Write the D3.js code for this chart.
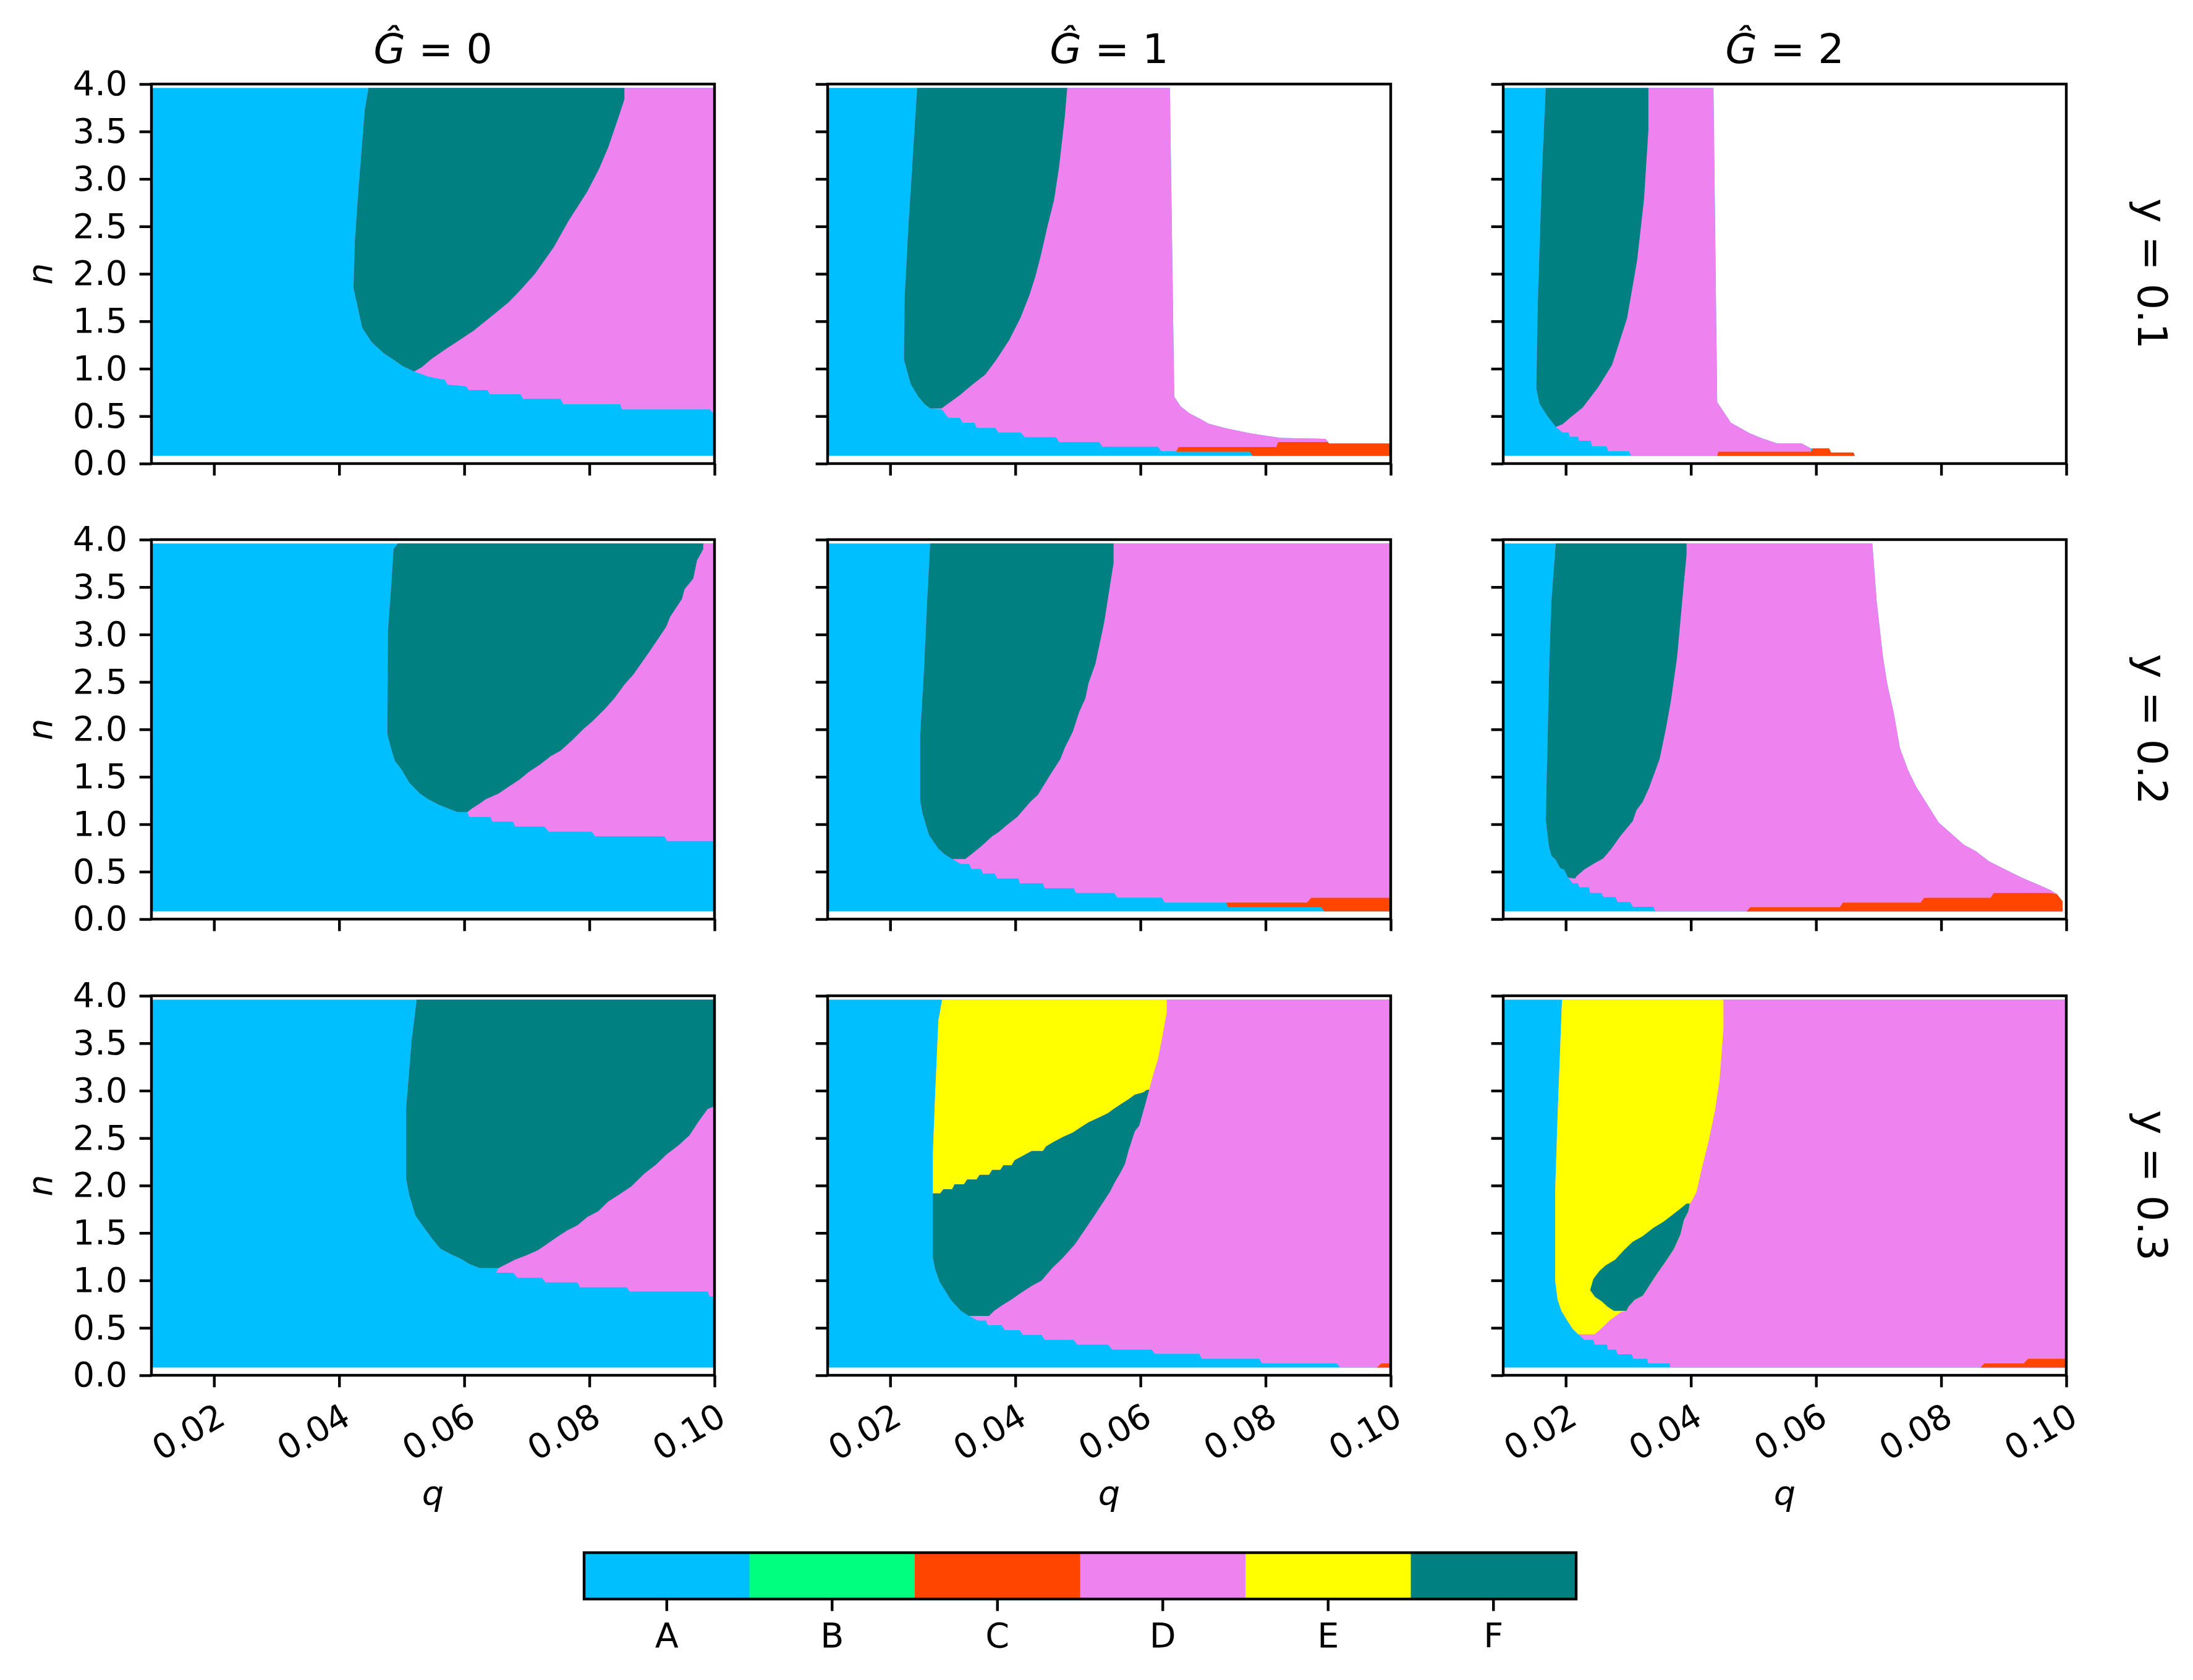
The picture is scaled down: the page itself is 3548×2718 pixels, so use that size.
<!DOCTYPE html>
<html lang="en">
<head>
<meta charset="utf-8">
<title>Phase regions in (q, n)</title>
<script src="https://cdnjs.cloudflare.com/ajax/libs/d3/7.8.5/d3.min.js"></script>
<style>
  body { margin: 0; background: #fff; }
  text { font-family: "DejaVu Sans", sans-serif; }
</style>
</head>
<body>
<div id="chart"></div>
<script>
// ---- categories, colours, tick labels ----
var categories = ["A", "B", "C", "D", "E", "F"];
var catColors = ["#00BFFF", "#00FF7F", "#FF4500", "#EE82EE", "#FFFF00", "#008080"];
var gValues = [0, 1, 2];
var yValues = ["0.1", "0.2", "0.3"];
var qTicks = [0.02, 0.04, 0.06, 0.08, 0.10];
var nTicks = [0, 0.5, 1, 1.5, 2, 2.5, 3, 3.5, 4];

var N_LO = 0.082, N_HI = 3.96;
var fullRect = [[0.01, N_LO], [0.01, N_HI], [0.1, N_HI], [0.1, N_LO]];

// ---- region boundaries, [q, n] ----
// G=0, y=0.1
var g0y1_fLeft = [[0.0447,3.96],[0.0441,3.73],[0.0431,2.90],[0.0425,2.33],[0.0423,1.85],[0.0428,1.70],[0.0437,1.43],[0.0452,1.28],[0.0471,1.165],[0.0486,1.10],[0.0501,1.03],[0.0520,0.97]];
var g0y1_fRight = [[0.0856,3.96],[0.0856,3.84],[0.0847,3.66],[0.0830,3.33],[0.0815,3.10],[0.0796,2.86],[0.0766,2.55],[0.0743,2.28],[0.0713,2.00],[0.0690,1.83],[0.0671,1.70],[0.0645,1.56],[0.0615,1.40],[0.0592,1.30],[0.0569,1.20],[0.0547,1.10],[0.0532,1.015],[0.0520,0.97]];
var g0y1_adStair = [[0.0520,0.97],[0.0543,0.915],[0.0569,0.882],[0.0573,0.832],[0.0603,0.815],[0.0607,0.775],[0.0637,0.775],[0.0641,0.732],[0.0690,0.732],[0.0694,0.682],[0.0754,0.682],[0.0758,0.626],[0.0849,0.626],[0.0852,0.572],[0.0992,0.572],[0.1,0.516]];

// G=1, y=0.1
var g1y1_fLeft = [[0.0243,3.96],[0.0236,3.216],[0.0229,2.49],[0.0223,1.736],[0.0222,1.097],[0.0228,0.952],[0.0233,0.836],[0.0245,0.705],[0.0255,0.627],[0.0264,0.581]];
var g1y1_fRight = [[0.0483,3.96],[0.0479,3.65],[0.0470,3.13],[0.0462,2.78],[0.0451,2.49],[0.0441,2.20],[0.0432,1.97],[0.0422,1.765],[0.0408,1.533],[0.0390,1.30],[0.0370,1.097],[0.0352,0.938],[0.0332,0.836],[0.0311,0.72],[0.0293,0.633],[0.0282,0.581]];
var g1y1_adStair = [[0.0264,0.581],[0.0283,0.569],[0.0293,0.482],[0.0311,0.482],[0.0316,0.430],[0.0335,0.430],[0.0338,0.377],[0.0368,0.377],[0.0373,0.328],[0.0409,0.328],[0.0415,0.279],[0.0465,0.279],[0.0470,0.226],[0.0534,0.226],[0.0539,0.177],[0.0628,0.177],[0.0633,0.130],[0.0657,0.130]];
var g1y1_white = [[0.0647,3.96],[0.0654,0.705],[0.0664,0.604],[0.0678,0.531],[0.0695,0.473],[0.0709,0.421],[0.0737,0.372],[0.0775,0.319],[0.0824,0.27],[0.0896,0.261],[0.0900,0.226]];
var g1y1_C = [[0.0661,0.174],[0.0817,0.174],[0.0820,0.226],[0.0900,0.226],[0.0901,0.212],[0.1,0.212],[0.1,N_LO],[0.0779,N_LO],[0.0775,0.125],[0.0657,0.125]];

// G=2, y=0.1
var g2y1_fLeft = [[0.0168,3.96],[0.0162,3.07],[0.0155,1.62],[0.0153,0.79],[0.0158,0.633],[0.0169,0.517],[0.0184,0.386]];
var g2y1_fRight = [[0.0332,3.96],[0.0332,3.51],[0.0325,2.78],[0.0314,2.14],[0.0298,1.533],[0.0274,1.04],[0.0252,0.807],[0.0227,0.589],[0.0216,0.531],[0.0205,0.473],[0.0195,0.415],[0.0184,0.386]];
var g2y1_adStair = [[0.0184,0.386],[0.0195,0.328],[0.0205,0.328],[0.0206,0.284],[0.0220,0.284],[0.0221,0.241],[0.0240,0.241],[0.0242,0.183],[0.0265,0.183],[0.0268,0.131],[0.0301,0.131],[0.0304,N_LO]];
var g2y1_white = [[0.0436,3.96],[0.0442,0.647],[0.0464,0.43],[0.0480,0.372],[0.0494,0.319],[0.0512,0.27],[0.0538,0.212],[0.0577,0.212],[0.0592,0.16]];
var g2y1_C = [[0.0442,N_LO],[0.0444,0.125],[0.0592,0.125],[0.0595,0.16],[0.0621,0.16],[0.0624,0.116],[0.0660,0.116],[0.0662,N_LO]];

// G=0, y=0.2
var g0y2_fLeft = [[0.0494,3.96],[0.0487,3.90],[0.0483,3.49],[0.0478,3.03],[0.0477,1.95],[0.0483,1.80],[0.0489,1.67],[0.0499,1.585],[0.0512,1.44],[0.0529,1.324],[0.0542,1.265],[0.0559,1.207],[0.0575,1.164],[0.0589,1.129],[0.0605,1.129]];
var g0y2_fRight = [[0.0982,3.96],[0.0982,3.90],[0.0972,3.78],[0.0966,3.59],[0.0952,3.476],[0.0948,3.375],[0.0929,3.185],[0.0923,3.084],[0.0896,2.82],[0.0870,2.575],[0.0856,2.473],[0.0840,2.327],[0.0824,2.21],[0.0804,2.08],[0.0791,2.007],[0.0771,1.876],[0.0754,1.775],[0.0738,1.716],[0.0721,1.629],[0.0704,1.556],[0.0688,1.469],[0.0671,1.396],[0.0655,1.324],[0.0635,1.265],[0.0622,1.207],[0.0612,1.164],[0.0605,1.129]];
var g0y2_adStair = [[0.0605,1.129],[0.0608,1.076],[0.0642,1.076],[0.0645,1.027],[0.0678,1.027],[0.0681,0.975],[0.0728,0.975],[0.0735,0.922],[0.0804,0.922],[0.0809,0.873],[0.0920,0.873],[0.0924,0.823],[0.1,0.823]];

// G=1, y=0.2
var g1y2_fLeft = [[0.0264,3.96],[0.0259,3.345],[0.0254,2.618],[0.0248,1.95],[0.0248,1.25],[0.0252,1.105],[0.0262,0.887],[0.0277,0.742],[0.0287,0.684],[0.0299,0.634]];
var g1y2_fRight = [[0.0557,3.96],[0.0557,3.753],[0.0542,3.127],[0.0528,2.69],[0.0517,2.487],[0.0512,2.327],[0.0502,2.182],[0.0492,1.978],[0.0479,1.804],[0.0472,1.687],[0.0455,1.513],[0.0436,1.309],[0.0424,1.236],[0.0403,1.076],[0.0386,0.989],[0.0373,0.916],[0.0363,0.873],[0.0346,0.771],[0.0330,0.684],[0.0320,0.634]];
var g1y2_adStair = [[0.0299,0.634],[0.0313,0.582],[0.0326,0.582],[0.0330,0.529],[0.0345,0.529],[0.0348,0.48],[0.0367,0.48],[0.0371,0.428],[0.0405,0.428],[0.0407,0.378],[0.0444,0.378],[0.0447,0.326],[0.0493,0.326],[0.0497,0.276],[0.0558,0.276],[0.0563,0.227],[0.0634,0.227],[0.0639,0.175],[0.0737,0.175]];
var g1y2_C = [[0.0737,0.175],[0.0866,0.175],[0.0873,0.224],[0.1,0.224],[0.1,N_LO],[0.0894,N_LO],[0.0889,0.125],[0.0740,0.125]];

// G=2, y=0.2
var g2y2_fLeft = [[0.0184,3.96],[0.0177,3.345],[0.0174,2.764],[0.0171,1.891],[0.0168,1.047],[0.0173,0.771],[0.0177,0.669],[0.0184,0.625],[0.0191,0.538],[0.0197,0.524],[0.0204,0.436],[0.0215,0.428]];
var g2y2_fRight = [[0.0393,3.96],[0.0393,3.84],[0.0386,3.345],[0.0378,2.764],[0.0368,2.298],[0.0360,2.007],[0.0350,1.687],[0.0333,1.382],[0.0323,1.236],[0.0313,1.149],[0.0307,1.033],[0.0287,0.873],[0.0273,0.742],[0.0260,0.64],[0.0244,0.582],[0.0230,0.524],[0.0217,0.451],[0.0215,0.428]];
var g2y2_adStair = [[0.0204,0.436],[0.0211,0.378],[0.0219,0.378],[0.0222,0.335],[0.0237,0.335],[0.0239,0.276],[0.0257,0.276],[0.0260,0.233],[0.0279,0.233],[0.0283,0.18],[0.0303,0.18],[0.0307,0.131],[0.0340,0.131],[0.0343,N_LO]];
var g2y2_white = [[0.0690,3.96],[0.0697,3.345],[0.0707,2.764],[0.0714,2.473],[0.0724,2.182],[0.0734,1.804],[0.0747,1.571],[0.0760,1.396],[0.0796,1.018],[0.0816,0.902],[0.0836,0.785],[0.0856,0.713],[0.0876,0.611],[0.0902,0.524],[0.0929,0.436],[0.0955,0.364],[0.0975,0.305],[0.0985,0.262],[0.0994,0.189],[0.0994,N_LO]];
var g2y2_C = [[0.0489,N_LO],[0.0495,0.125],[0.0638,0.125],[0.0643,0.175],[0.0767,0.175],[0.0773,0.224],[0.0879,0.224],[0.0884,0.276],[0.0975,0.276],[0.0985,0.262],[0.0994,0.189],[0.0994,N_LO]];

// G=0, y=0.3
var g0y3_fLeft = [[0.0524,3.96],[0.0516,3.534],[0.0507,2.806],[0.0507,2.077],[0.0512,1.902],[0.0522,1.684],[0.0536,1.553],[0.0549,1.436],[0.0562,1.334],[0.0579,1.276],[0.0595,1.226],[0.0608,1.174],[0.0625,1.13],[0.0655,1.13]];
var g0y3_fRight = [[0.1,3.96],[0.1,2.835],[0.0989,2.806],[0.0976,2.689],[0.0960,2.529],[0.0943,2.427],[0.0923,2.325],[0.0907,2.223],[0.0887,2.121],[0.0867,1.99],[0.0847,1.902],[0.0830,1.83],[0.0814,1.728],[0.0797,1.669],[0.0781,1.582],[0.0764,1.524],[0.0747,1.451],[0.0731,1.378],[0.0718,1.32],[0.0698,1.261],[0.0681,1.218],[0.0668,1.174],[0.0655,1.13]];
var g0y3_adStair = [[0.0655,1.13],[0.0651,1.081],[0.0678,1.081],[0.0685,1.028],[0.0724,1.028],[0.0730,0.979],[0.0781,0.979],[0.0785,0.926],[0.0860,0.926],[0.0864,0.883],[0.0989,0.883],[0.0992,0.83],[0.1,0.83]];

// G=1, y=0.3
var g1y3_eLeft = [[0.0283,3.96],[0.0277,3.738],[0.0272,2.98],[0.0268,2.31],[0.0268,1.917]];
var g1y3_efStair = [[0.0268,1.917],[0.0280,1.917],[0.0285,1.961],[0.0299,1.961],[0.0303,2.013],[0.0318,2.013],[0.0323,2.063],[0.0338,2.063],[0.0343,2.112],[0.0358,2.112],[0.0363,2.165],[0.0376,2.165],[0.0381,2.214],[0.0394,2.214],[0.0399,2.267],[0.0411,2.31],[0.0426,2.363],[0.0444,2.363],[0.0449,2.412],[0.0462,2.462],[0.0477,2.514],[0.0492,2.558],[0.0505,2.616],[0.0517,2.666],[0.0532,2.712],[0.0548,2.762],[0.0558,2.811],[0.0570,2.864],[0.0581,2.908],[0.0591,2.957],[0.0604,2.98],[0.0611,3.01]];
var g1y3_eRight = [[0.0642,3.96],[0.0642,3.825],[0.0634,3.534],[0.0628,3.33],[0.0621,3.184],[0.0614,3.01]];
var g1y3_fRight = [[0.0614,3.01],[0.0608,2.864],[0.0598,2.631],[0.0591,2.572],[0.0581,2.369],[0.0575,2.223],[0.0568,2.135],[0.0559,2.034],[0.0551,1.932],[0.0525,1.669],[0.0495,1.378],[0.0475,1.232],[0.0459,1.13],[0.0442,0.999],[0.0426,0.941],[0.0409,0.868],[0.0393,0.795],[0.0379,0.737],[0.0366,0.679],[0.0358,0.626]];
var g1y3_fLeft = [[0.0268,1.917],[0.0268,1.247],[0.0272,1.116],[0.0279,0.985],[0.0297,0.795],[0.0313,0.679],[0.0326,0.626]];
var g1y3_adStair = [[0.0326,0.626],[0.0340,0.577],[0.0353,0.577],[0.0356,0.527],[0.0378,0.527],[0.0383,0.475],[0.0407,0.475],[0.0412,0.425],[0.0442,0.425],[0.0447,0.373],[0.0493,0.373],[0.0499,0.323],[0.0548,0.323],[0.0555,0.271],[0.0618,0.271],[0.0623,0.227],[0.0694,0.227],[0.0698,0.175],[0.0790,0.175],[0.0794,0.125],[0.0914,0.125],[0.0919,N_LO]];
var g1y3_C = [[0.0978,N_LO],[0.0985,0.125],[0.1,0.125],[0.1,N_LO]];

// G=2, y=0.3
var g2y3_eLeft = [[0.0194,3.96],[0.0187,2.747],[0.0183,1.932],[0.0183,0.999],[0.0187,0.795],[0.0193,0.679],[0.0201,0.591],[0.0211,0.489],[0.0220,0.431]];
var g2y3_adStair = [[0.0220,0.431],[0.0230,0.373],[0.0244,0.373],[0.0246,0.323],[0.0266,0.323],[0.0267,0.271],[0.0280,0.271],[0.0283,0.221],[0.0305,0.221],[0.0308,0.175],[0.0330,0.175],[0.0332,0.125],[0.0366,0.125],[0.0367,N_LO]];
var g2y3_edStair = [[0.0246,0.431],[0.0254,0.475],[0.0261,0.519],[0.0270,0.577],[0.0279,0.621],[0.0288,0.664],[0.0297,0.679]];
var g2y3_eRight = [[0.0452,3.96],[0.0452,3.65],[0.0446,3.126],[0.0439,2.806],[0.0429,2.485],[0.0418,2.194],[0.0409,1.932],[0.0401,1.83]];
var g2y3_fLeft = [[0.0277,0.679],[0.0267,0.722],[0.0257,0.781],[0.0247,0.824],[0.0239,0.897],[0.0244,1.014],[0.0254,1.101],[0.0264,1.16],[0.0279,1.218],[0.0293,1.32],[0.0307,1.407],[0.0323,1.465],[0.0340,1.553],[0.0356,1.617],[0.0373,1.704],[0.0386,1.771],[0.0393,1.809]];
var g2y3_fRight = [[0.0398,1.809],[0.0396,1.728],[0.0389,1.64],[0.0383,1.48],[0.0373,1.334],[0.0363,1.232],[0.0346,1.072],[0.0323,0.839],[0.0310,0.795],[0.0300,0.722],[0.0297,0.679]];
var g2y3_C = [[0.0863,N_LO],[0.0869,0.125],[0.0932,0.125],[0.0939,0.175],[0.1,0.175],[0.1,N_LO]];

function rev(a) { return a.slice().reverse(); }

// painted in order, later layers on top
var panels = [
  { row: 0, col: 0, layers: [
    ["A", fullRect],
    ["D", g0y1_fLeft.concat(g0y1_adStair, [[0.1, N_HI]])],
    ["F", g0y1_fLeft.concat(rev(g0y1_fRight))] ] },
  { row: 0, col: 1, layers: [
    ["A", [[0.01, N_LO], [0.01, N_HI]].concat(g1y1_white, [[0.0901, 0.212], [0.1, 0.212], [0.1, N_LO]])],
    ["D", g1y1_fLeft.concat(g1y1_adStair, [[0.0900, 0.130]], rev(g1y1_white))],
    ["C", g1y1_C],
    ["F", g1y1_fLeft.concat(rev(g1y1_fRight))] ] },
  { row: 0, col: 2, layers: [
    ["A", [[0.01, N_LO], [0.01, N_HI]].concat(g2y1_white, [[0.0595, 0.16], [0.0621, 0.16], [0.0624, 0.116], [0.0660, 0.116], [0.0662, N_LO]])],
    ["D", g2y1_fLeft.concat(g2y1_adStair, [[0.0592, N_LO]], rev(g2y1_white))],
    ["C", g2y1_C],
    ["F", g2y1_fLeft.concat(rev(g2y1_fRight))] ] },
  { row: 1, col: 0, layers: [
    ["A", fullRect],
    ["D", g0y2_fLeft.concat(g0y2_adStair, [[0.1, N_HI]])],
    ["F", g0y2_fLeft.concat(rev(g0y2_fRight))] ] },
  { row: 1, col: 1, layers: [
    ["A", fullRect],
    ["D", g1y2_fLeft.concat(g1y2_adStair, [[0.1, 0.175], [0.1, N_HI]])],
    ["C", g1y2_C],
    ["F", g1y2_fLeft.concat(rev(g1y2_fRight))] ] },
  { row: 1, col: 2, layers: [
    ["A", [[0.01, N_LO], [0.01, N_HI]].concat(g2y2_white)],
    ["D", g2y2_fLeft.concat(g2y2_adStair, rev(g2y2_white))],
    ["C", g2y2_C],
    ["F", g2y2_fLeft.concat(rev(g2y2_fRight))] ] },
  { row: 2, col: 0, layers: [
    ["A", fullRect],
    ["D", g0y3_fLeft.concat(g0y3_adStair, [[0.1, N_HI]])],
    ["F", g0y3_fLeft.concat(rev(g0y3_fRight))] ] },
  { row: 2, col: 1, layers: [
    ["A", fullRect],
    ["D", g1y3_eLeft.concat(g1y3_fLeft, g1y3_adStair, [[0.1, N_LO], [0.1, N_HI]])],
    ["E", g1y3_eLeft.concat(g1y3_efStair, rev(g1y3_eRight))],
    ["F", g1y3_efStair.concat(g1y3_fRight, rev(g1y3_fLeft))],
    ["C", g1y3_C] ] },
  { row: 2, col: 2, layers: [
    ["A", fullRect],
    ["D", g2y3_eLeft.concat(g2y3_adStair, [[0.1, N_LO], [0.1, N_HI]])],
    ["E", g2y3_eLeft.concat(g2y3_edStair, rev(g2y3_fRight), rev(g2y3_eRight))],
    ["F", g2y3_fLeft.concat(g2y3_fRight)],
    ["C", g2y3_C] ] }
];

// ---- layout ----
var W = 3548, H = 2718;
var colX = [245, 1339, 2432];
var rowY = [136, 873, 1611];
var panelW = 911, panelH = 614;
var TICK = 19.4, PAD = 19.4, LW = 4.4;
var FS = 55.6, FS_TITLE = 66.7;

var color = d3.scaleOrdinal().domain(categories).range(catColors);
var x = d3.scaleLinear().domain([0.01, 0.10]).range([0, panelW]);
var y = d3.scaleLinear().domain([0, 4]).range([panelH, 0]);
var line = d3.line().x(function(d){ return x(d[0]); }).y(function(d){ return y(d[1]); });

var svg = d3.select("#chart").append("svg")
  .attr("width", W).attr("height", H);
svg.append("rect").attr("width", W).attr("height", H).attr("fill", "white");

panels.forEach(function(p) {
  var g = svg.append("g")
    .attr("transform", "translate(" + colX[p.col] + "," + rowY[p.row] + ")");

  g.selectAll("path.region")
    .data(p.layers)
    .join("path")
    .attr("class", "region")
    .attr("d", function(d){ return line(d[1]) + "Z"; })
    .attr("fill", function(d){ return color(d[0]); });

  // x axis
  var xa = g.append("g")
    .attr("transform", "translate(0," + panelH + ")")
    .call(d3.axisBottom(x).tickValues(qTicks).tickSize(TICK).tickSizeOuter(0)
      .tickFormat(p.row === 2 ? d3.format(".2f") : function(){ return ""; }));
  xa.select(".domain").remove();
  xa.selectAll("line").attr("stroke", "black").attr("stroke-width", LW);
  xa.selectAll("text")
    .attr("y", null)
    .attr("font-size", FS)
    .attr("font-family", "DejaVu Sans")
    .attr("fill", "black")
    .attr("text-anchor", "end")
    .attr("dy", "0.76em")
    .attr("transform", "translate(0," + (TICK + PAD + 2) + ") rotate(-30)");

  // y axis
  var ya = g.append("g")
    .call(d3.axisLeft(y).tickValues(nTicks).tickSize(TICK).tickSizeOuter(0).tickPadding(PAD)
      .tickFormat(p.col === 0 ? d3.format(".1f") : function(){ return ""; }));
  ya.select(".domain").remove();
  ya.selectAll("line").attr("stroke", "black").attr("stroke-width", LW);
  ya.selectAll("text")
    .attr("font-size", FS)
    .attr("font-family", "DejaVu Sans")
    .attr("fill", "black");

  // frame
  g.append("rect")
    .attr("width", panelW).attr("height", panelH)
    .attr("fill", "none").attr("stroke", "black").attr("stroke-width", LW);

  if (p.row === 0) {
    var t = g.append("text")
      .attr("x", panelW / 2).attr("y", -34)
      .attr("text-anchor", "middle")
      .attr("font-size", FS_TITLE);
    t.append("tspan").attr("font-style", "italic").text("\u011C");
    t.append("tspan").text(" = " + gValues[p.col]);
  }
  if (p.col === 0) {
    g.append("text")
      .attr("transform", "translate(" + (84 - colX[0]) + "," + (panelH / 2) + ") rotate(-90)")
      .attr("text-anchor", "middle")
      .attr("font-size", FS)
      .attr("font-style", "italic")
      .text("n");
  }
  if (p.col === 2) {
    g.append("text")
      .attr("transform", "translate(" + (3459 - colX[2]) + "," + (panelH / 2) + ") rotate(90)")
      .attr("text-anchor", "middle")
      .attr("font-size", FS_TITLE)
      .text("y = " + yValues[p.row]);
  }
  if (p.row === 2) {
    g.append("text")
      .attr("x", panelW / 2).attr("y", 2435 - rowY[2])
      .attr("text-anchor", "middle")
      .attr("font-size", FS)
      .attr("font-style", "italic")
      .text("q");
  }
});

// ---- colour bar ----
var cbTop = 2512, cbH = 75;
var cb = d3.scaleBand().domain(categories).range([945, 2550]);
var cbg = svg.append("g");
cbg.selectAll("rect.seg")
  .data(categories)
  .join("rect")
  .attr("class", "seg")
  .attr("x", function(d){ return cb(d); })
  .attr("y", cbTop)
  .attr("width", cb.bandwidth() + 0.5)
  .attr("height", cbH)
  .attr("fill", function(d){ return color(d); });
cbg.append("rect")
  .attr("x", 945).attr("y", cbTop).attr("width", 2550 - 945).attr("height", cbH)
  .attr("fill", "none").attr("stroke", "black").attr("stroke-width", LW);
var cba = cbg.append("g")
  .attr("transform", "translate(0," + (cbTop + cbH) + ")")
  .call(d3.axisBottom(cb).tickSize(TICK).tickSizeOuter(0).tickPadding(PAD));
cba.select(".domain").remove();
cba.selectAll("line").attr("stroke", "black").attr("stroke-width", LW);
cba.selectAll("text").attr("font-size", FS).attr("font-family", "DejaVu Sans").attr("fill", "black");
</script>
</body>
</html>
